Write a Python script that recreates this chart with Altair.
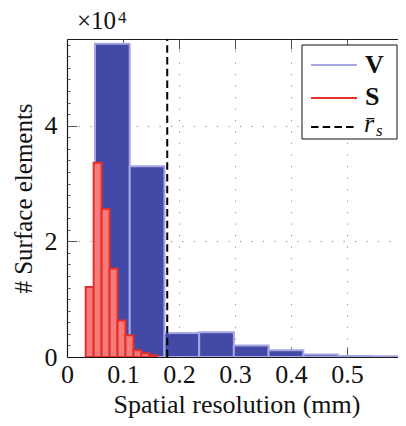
import altair as alt
import pandas as pd

# ---------------- data ----------------
v_bin_lo = [0.050, 0.112, 0.174, 0.236, 0.298, 0.360, 0.422, 0.484, 0.546]
v_bin_hi = [0.112, 0.174, 0.236, 0.298, 0.360, 0.422, 0.484, 0.546, 0.608]
v_counts = [54200, 33000, 4150, 4300, 2000, 1160, 420, 180, 120]

s_bin_lo = [0.0334, 0.0476, 0.0618, 0.0760, 0.0902, 0.1044, 0.1186, 0.1328, 0.1470]
s_bin_hi = [0.0476, 0.0618, 0.0760, 0.0902, 0.1044, 0.1186, 0.1328, 0.1470, 0.1612]
s_counts = [12100, 33600, 25600, 15300, 6300, 3750, 1150, 650, 300]

r_mean = [0.179]

x_labeled = [0, 0.1, 0.2, 0.3, 0.4, 0.5]
x_major = [0.1, 0.2, 0.3, 0.4, 0.5]
y_labeled = [0, 20000, 40000]
y_major = [20000, 40000]
y_minor = [v for v in range(2000, 56000, 2000) if v % 20000 != 0]

legend_labels = ["V", "S", "r\u0304", "s"]
x_title = "Spatial resolution (mm)"
y_title = "# Surface elements"
exp_base = "\u00d710"
exp_power = "4"

# ---------------- styling ----------------
FONT = "Liberation Serif"
FS = 26
FS_SMALL = 17
TXT = "#111111"
FRAME = "#1a1a1a"
V_FILL = "#4349A6"
V_EDGE = "#A6A6E2"
S_FILL = "#F77B7B"
S_EDGE = "#E2312B"
DOT = [1.2, 10.3]
GRIDC = "#8a8a8a"
TICKC = "#555555"

xs = alt.Scale(domain=[0, 0.5911], nice=False, zero=False)
ys = alt.Scale(domain=[0, 55000], nice=False, zero=False)

vdf = pd.DataFrame({"lo": v_bin_lo, "hi": v_bin_hi, "n": v_counts})
sdf = pd.DataFrame({"lo": s_bin_lo, "hi": s_bin_hi, "n": s_counts})
rdf = pd.DataFrame({"r": r_mean})
one = pd.DataFrame({"k": [0]})

ax_x_main = alt.Axis(
    orient="bottom", values=x_labeled,
    labelExpr="format(datum.value, '~g')",
    ticks=False, tickSize=0, domain=True, domainColor=FRAME, domainWidth=1.2,
    grid=True, gridDash=DOT, gridColor=GRIDC, gridWidth=1,
    labelFont=FONT, labelFontSize=FS, labelColor=TXT, labelPadding=25,
    labelBaseline="alphabetic", labelFlush=False,
    title=x_title, titleFont=FONT, titleFontSize=FS, titleFontWeight="normal",
    titleColor=TXT, titleX=169.5, titleY=55, titleAlign="center",
    titleBaseline="alphabetic",
)
ax_y_main = alt.Axis(
    orient="left", values=y_labeled,
    labelExpr="format(datum.value / 10000, 'd')",
    ticks=False, tickSize=0, domain=True, domainColor=FRAME, domainWidth=1.2,
    grid=True, gridDash=DOT, gridColor=GRIDC, gridWidth=1,
    labelFont=FONT, labelFontSize=FS, labelColor=TXT, labelPadding=10,
    labelBaseline="middle", labelFlush=False,
    title=y_title, titleFont=FONT, titleFontSize=25, titleFontWeight="normal",
    titleColor=TXT, titleX=-36, titleY=159, titleAngle=270, titleAlign="center",
    titleBaseline="alphabetic",
)
ax_x_bottom_ticks = alt.Axis(
    orient="bottom", values=x_major, labels=False, ticks=True, tickSize=10,
    offset=-10, domain=False, grid=False, title="", tickColor=TICKC, tickWidth=1,
)
ax_y_major_ticks = alt.Axis(
    orient="left", values=y_major, labels=False, ticks=True, tickSize=10,
    offset=-10, domain=False, grid=False, title="", tickColor=TICKC, tickWidth=1,
)
ax_x_top_frame = alt.Axis(
    orient="top", labels=False, ticks=False, domain=True, domainColor=FRAME,
    domainWidth=1.2, grid=False, title="",
)
ax_x_top_ticks = alt.Axis(
    orient="top", values=x_major, labels=False, ticks=True, tickSize=10,
    offset=-10, domain=False, grid=False, title="", tickColor=TICKC, tickWidth=1,
)
ax_y_minor_ticks = alt.Axis(
    orient="left", values=y_minor, labels=False, ticks=True, tickSize=3,
    offset=-3, domain=False, grid=False, title="", tickColor=TICKC, tickWidth=1,
)

v_bars = alt.Chart(vdf).mark_bar(
    fill=V_FILL, stroke=V_EDGE, strokeWidth=2, opacity=1, clip=True
).encode(
    x=alt.X("lo:Q", scale=xs, axis=ax_x_main),
    x2="hi:Q",
    y=alt.Y("n:Q", scale=ys, axis=ax_y_main),
    y2=alt.datum(0),
)

s_bars = alt.Chart(sdf).mark_bar(
    fill=S_FILL, stroke=S_EDGE, strokeWidth=2, opacity=1, clip=True
).encode(
    x=alt.X("lo:Q", scale=xs, axis=ax_x_bottom_ticks),
    x2="hi:Q",
    y=alt.Y("n:Q", scale=ys, axis=ax_y_major_ticks),
    y2=alt.datum(0),
)

r_rule = alt.Chart(rdf).mark_rule(
    color="black", strokeWidth=2, strokeDash=[7.5, 4.2]
).encode(
    x=alt.X("r:Q", scale=xs, axis=ax_x_top_frame),
    y=alt.datum(0, scale=ys, axis=ax_y_minor_ticks),
    y2=alt.datum(55000),
)

# invisible layer that only carries the inward top ticks
top_ticks = alt.Chart(rdf).mark_rule(opacity=0).encode(
    x=alt.X("r:Q", scale=xs, axis=ax_x_top_ticks),
)

# ---------------- legend (drawn by hand) ----------------
leg_box = alt.Chart(one).mark_rect(fill="white", stroke="#111", strokeWidth=1).encode(
    x=alt.value(235), x2=alt.value(330), y=alt.value(6), y2=alt.value(100)
)
leg_v = alt.Chart(one).mark_rule(color=V_EDGE, strokeWidth=2).encode(
    x=alt.value(244), x2=alt.value(290), y=alt.value(26)
)
leg_s = alt.Chart(one).mark_rule(color=S_EDGE, strokeWidth=2).encode(
    x=alt.value(244), x2=alt.value(290), y=alt.value(59)
)
leg_r = alt.Chart(one).mark_rule(color="black", strokeWidth=2, strokeDash=[7.5, 4.2]).encode(
    x=alt.value(244), x2=alt.value(290), y=alt.value(88)
)
txt_v = alt.Chart(one).mark_text(
    text=legend_labels[0], font=FONT, fontSize=FS, fontWeight="bold", color=TXT,
    align="left", baseline="alphabetic"
).encode(x=alt.value(298), y=alt.value(34))
txt_s = alt.Chart(one).mark_text(
    text=legend_labels[1], font=FONT, fontSize=FS, fontWeight="bold", color=TXT,
    align="left", baseline="alphabetic"
).encode(x=alt.value(298), y=alt.value(66))
txt_r = alt.Chart(one).mark_text(
    text=legend_labels[2], font=FONT, fontSize=FS, fontStyle="italic", color=TXT,
    align="left", baseline="alphabetic"
).encode(x=alt.value(297), y=alt.value(93))
txt_rs = alt.Chart(one).mark_text(
    text=legend_labels[3], font=FONT, fontSize=FS_SMALL, fontStyle="italic", color=TXT,
    align="left", baseline="alphabetic"
).encode(x=alt.value(309), y=alt.value(97))

exp1 = alt.Chart(one).mark_text(
    text=exp_base, font=FONT, fontSize=25, color=TXT, align="left", baseline="alphabetic"
).encode(x=alt.value(10), y=alt.value(-10))
exp2 = alt.Chart(one).mark_text(
    text=exp_power, font=FONT, fontSize=FS_SMALL, color=TXT, align="left", baseline="alphabetic"
).encode(x=alt.value(51), y=alt.value(-16))

chart = alt.layer(
    v_bars, s_bars, r_rule, top_ticks, leg_box, leg_v, leg_s, leg_r,
    txt_v, txt_s, txt_r, txt_rs, exp1, exp2
).resolve_axis(
    x="independent", y="independent"
).properties(
    width=331, height=318,
    padding={"left": 59, "top": 31, "right": 0, "bottom": 61},
    autosize=alt.AutoSizeParams(type="none"),
    background="white",
).configure_view(stroke=None)

chart.save("out.html", embed_options={"renderer": "svg", "actions": False})
